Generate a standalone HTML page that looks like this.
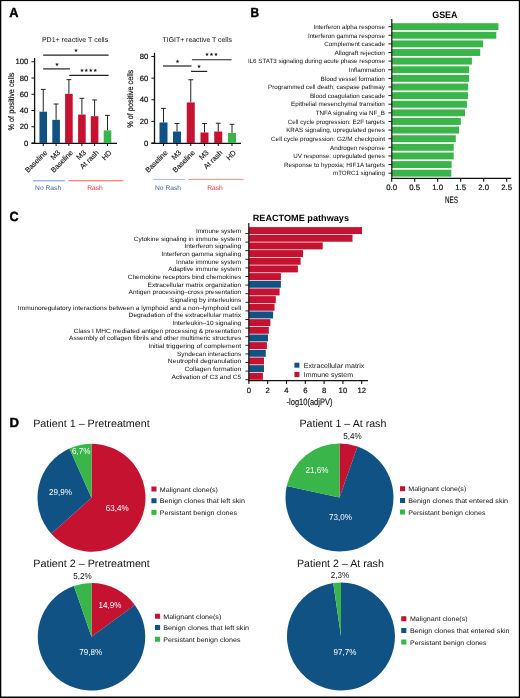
<!DOCTYPE html>
<html lang="en"><head><meta charset="utf-8"><title>Figure</title>
<style>
html,body{margin:0;padding:0;background:#fff;}
body{width:520px;height:698px;overflow:hidden;}
svg{display:block;}
svg text{font-family:"Liberation Sans",sans-serif;text-rendering:geometricPrecision;}
</style></head><body>
<svg width="520" height="698" viewBox="0 0 520 698">
<rect x="0" y="0" width="520" height="698" fill="#ffffff"/>
<text transform="translate(9.25,16.75) scale(0.97,1)" font-size="13.2" font-weight="bold" fill="#000" stroke="#000" stroke-width="0.4">A</text>
<text transform="translate(250.6,16.8) scale(0.9,1)" font-size="13.2" font-weight="bold" fill="#000" stroke="#000" stroke-width="0.4">B</text>
<text transform="translate(9.45,221.2) scale(0.96,1)" font-size="13.2" font-weight="bold" fill="#000" stroke="#000" stroke-width="0.4">C</text>
<text transform="translate(9.6,427.0) scale(1.0,1)" font-size="13.2" font-weight="bold" fill="#000" stroke="#000" stroke-width="0.4">D</text>
<line x1="34.60" y1="58.00" x2="34.60" y2="143.90" stroke="#111" stroke-width="1.3"/>
<line x1="31.50" y1="143.30" x2="117.00" y2="143.30" stroke="#111" stroke-width="1.3"/>
<line x1="31.40" y1="143.00" x2="34.60" y2="143.00" stroke="#111" stroke-width="1.0"/>
<text x="28.30" y="145.65" font-size="7.7" text-anchor="end" fill="#111" stroke="#111" stroke-width="0.2">0</text>
<line x1="31.40" y1="126.75" x2="34.60" y2="126.75" stroke="#111" stroke-width="1.0"/>
<text x="28.30" y="129.40" font-size="7.7" text-anchor="end" fill="#111" stroke="#111" stroke-width="0.2">20</text>
<line x1="31.40" y1="110.50" x2="34.60" y2="110.50" stroke="#111" stroke-width="1.0"/>
<text x="28.30" y="113.15" font-size="7.7" text-anchor="end" fill="#111" stroke="#111" stroke-width="0.2">40</text>
<line x1="31.40" y1="94.25" x2="34.60" y2="94.25" stroke="#111" stroke-width="1.0"/>
<text x="28.30" y="96.90" font-size="7.7" text-anchor="end" fill="#111" stroke="#111" stroke-width="0.2">60</text>
<line x1="31.40" y1="78.00" x2="34.60" y2="78.00" stroke="#111" stroke-width="1.0"/>
<text x="28.30" y="80.65" font-size="7.7" text-anchor="end" fill="#111" stroke="#111" stroke-width="0.2">80</text>
<line x1="31.40" y1="61.75" x2="34.60" y2="61.75" stroke="#111" stroke-width="1.0"/>
<text x="28.30" y="64.40" font-size="7.7" text-anchor="end" fill="#111" stroke="#111" stroke-width="0.2">100</text>
<line x1="43.25" y1="89.38" x2="43.25" y2="111.72" stroke="#222" stroke-width="1.0"/>
<line x1="40.85" y1="89.38" x2="45.65" y2="89.38" stroke="#222" stroke-width="1.0"/>
<rect x="39.45" y="111.72" width="7.60" height="31.28" fill="#115285"/>
<line x1="43.25" y1="143.00" x2="43.25" y2="146.00" stroke="#111" stroke-width="1.0"/>
<line x1="56.10" y1="104.00" x2="56.10" y2="119.84" stroke="#222" stroke-width="1.0"/>
<line x1="53.70" y1="104.00" x2="58.50" y2="104.00" stroke="#222" stroke-width="1.0"/>
<rect x="52.30" y="119.84" width="7.60" height="23.16" fill="#115285"/>
<line x1="56.10" y1="143.00" x2="56.10" y2="146.00" stroke="#111" stroke-width="1.0"/>
<line x1="68.90" y1="79.62" x2="68.90" y2="93.84" stroke="#222" stroke-width="1.0"/>
<line x1="66.50" y1="79.62" x2="71.30" y2="79.62" stroke="#222" stroke-width="1.0"/>
<rect x="65.10" y="93.84" width="7.60" height="49.16" fill="#c41230"/>
<line x1="68.90" y1="143.00" x2="68.90" y2="146.00" stroke="#111" stroke-width="1.0"/>
<line x1="81.90" y1="98.31" x2="81.90" y2="114.56" stroke="#222" stroke-width="1.0"/>
<line x1="79.50" y1="98.31" x2="84.30" y2="98.31" stroke="#222" stroke-width="1.0"/>
<rect x="78.10" y="114.56" width="7.60" height="28.44" fill="#c41230"/>
<line x1="81.90" y1="143.00" x2="81.90" y2="146.00" stroke="#111" stroke-width="1.0"/>
<line x1="94.60" y1="99.94" x2="94.60" y2="116.19" stroke="#222" stroke-width="1.0"/>
<line x1="92.20" y1="99.94" x2="97.00" y2="99.94" stroke="#222" stroke-width="1.0"/>
<rect x="90.80" y="116.19" width="7.60" height="26.81" fill="#c41230"/>
<line x1="94.60" y1="143.00" x2="94.60" y2="146.00" stroke="#111" stroke-width="1.0"/>
<line x1="107.50" y1="115.38" x2="107.50" y2="130.41" stroke="#222" stroke-width="1.0"/>
<line x1="105.10" y1="115.38" x2="109.90" y2="115.38" stroke="#222" stroke-width="1.0"/>
<rect x="103.70" y="130.41" width="7.60" height="12.59" fill="#39b54a"/>
<line x1="107.50" y1="143.00" x2="107.50" y2="146.00" stroke="#111" stroke-width="1.0"/>
<text transform="translate(47.85,153.20) rotate(-45)" font-size="7.3" text-anchor="end" fill="#111" stroke="#111" stroke-width="0.12">Baseline</text>
<text transform="translate(60.70,153.20) rotate(-45)" font-size="7.3" text-anchor="end" fill="#111" stroke="#111" stroke-width="0.12">M3</text>
<text transform="translate(73.50,153.20) rotate(-45)" font-size="7.3" text-anchor="end" fill="#111" stroke="#111" stroke-width="0.12">Baseline</text>
<text transform="translate(86.50,153.20) rotate(-45)" font-size="7.3" text-anchor="end" fill="#111" stroke="#111" stroke-width="0.12">M3</text>
<text transform="translate(99.20,153.20) rotate(-45)" font-size="7.3" text-anchor="end" fill="#111" stroke="#111" stroke-width="0.12">At rash</text>
<text transform="translate(112.10,153.20) rotate(-45)" font-size="7.3" text-anchor="end" fill="#111" stroke="#111" stroke-width="0.12">HD</text>
<text x="41.90" y="41.90" font-size="7.0" textLength="66.3" lengthAdjust="spacingAndGlyphs" fill="#111">PD1+ reactive T cells</text>
<text transform="translate(13.90,101.50) rotate(-90) scale(0.89,1)" font-size="8.2" text-anchor="middle" fill="#111" stroke="#111" stroke-width="0.18">% of positive cells</text>
<line x1="43.20" y1="55.20" x2="108.60" y2="55.20" stroke="#222" stroke-width="1.2"/>
<text x="75.90" y="51.90" font-size="5.0" text-anchor="middle" fill="#111" style="font-family:'DejaVu Sans',sans-serif">★</text>
<line x1="43.20" y1="68.90" x2="69.90" y2="68.90" stroke="#222" stroke-width="1.2"/>
<text x="56.90" y="65.60" font-size="5.0" text-anchor="middle" fill="#111" style="font-family:'DejaVu Sans',sans-serif">★</text>
<line x1="69.30" y1="75.40" x2="108.60" y2="75.40" stroke="#222" stroke-width="1.2"/>
<text x="88.60" y="72.10" font-size="5.0" text-anchor="middle" fill="#111" style="font-family:'DejaVu Sans',sans-serif">★★★★</text>
<line x1="33.10" y1="180.80" x2="64.80" y2="180.80" stroke="#7d9de0" stroke-width="1.1"/>
<text x="48.10" y="190.00" font-size="6.7" text-anchor="middle" fill="#3d5fa3">No Rash</text>
<line x1="68.30" y1="180.80" x2="123.30" y2="180.80" stroke="#ff5c5c" stroke-width="1.1"/>
<text x="95.00" y="190.00" font-size="6.7" text-anchor="middle" fill="#ee2e3e">Rash</text>
<line x1="154.50" y1="52.80" x2="154.50" y2="143.90" stroke="#111" stroke-width="1.3"/>
<line x1="151.30" y1="143.30" x2="241.00" y2="143.30" stroke="#111" stroke-width="1.3"/>
<line x1="151.30" y1="143.00" x2="154.50" y2="143.00" stroke="#111" stroke-width="1.0"/>
<text x="148.20" y="145.65" font-size="7.7" text-anchor="end" fill="#111" stroke="#111" stroke-width="0.2">0</text>
<line x1="151.30" y1="121.38" x2="154.50" y2="121.38" stroke="#111" stroke-width="1.0"/>
<text x="148.20" y="124.03" font-size="7.7" text-anchor="end" fill="#111" stroke="#111" stroke-width="0.2">20</text>
<line x1="151.30" y1="99.76" x2="154.50" y2="99.76" stroke="#111" stroke-width="1.0"/>
<text x="148.20" y="102.41" font-size="7.7" text-anchor="end" fill="#111" stroke="#111" stroke-width="0.2">40</text>
<line x1="151.30" y1="78.14" x2="154.50" y2="78.14" stroke="#111" stroke-width="1.0"/>
<text x="148.20" y="80.79" font-size="7.7" text-anchor="end" fill="#111" stroke="#111" stroke-width="0.2">60</text>
<line x1="151.30" y1="56.52" x2="154.50" y2="56.52" stroke="#111" stroke-width="1.0"/>
<text x="148.20" y="59.17" font-size="7.7" text-anchor="end" fill="#111" stroke="#111" stroke-width="0.2">80</text>
<line x1="163.50" y1="108.41" x2="163.50" y2="122.46" stroke="#222" stroke-width="1.0"/>
<line x1="161.10" y1="108.41" x2="165.90" y2="108.41" stroke="#222" stroke-width="1.0"/>
<rect x="159.50" y="122.46" width="8.00" height="20.54" fill="#115285"/>
<line x1="163.50" y1="143.00" x2="163.50" y2="146.00" stroke="#111" stroke-width="1.0"/>
<line x1="177.00" y1="123.54" x2="177.00" y2="131.54" stroke="#222" stroke-width="1.0"/>
<line x1="174.60" y1="123.54" x2="179.40" y2="123.54" stroke="#222" stroke-width="1.0"/>
<rect x="173.00" y="131.54" width="8.00" height="11.46" fill="#115285"/>
<line x1="177.00" y1="143.00" x2="177.00" y2="146.00" stroke="#111" stroke-width="1.0"/>
<line x1="190.75" y1="79.76" x2="190.75" y2="102.46" stroke="#222" stroke-width="1.0"/>
<line x1="188.35" y1="79.76" x2="193.15" y2="79.76" stroke="#222" stroke-width="1.0"/>
<rect x="186.75" y="102.46" width="8.00" height="40.54" fill="#c41230"/>
<line x1="190.75" y1="143.00" x2="190.75" y2="146.00" stroke="#111" stroke-width="1.0"/>
<line x1="204.50" y1="123.54" x2="204.50" y2="132.51" stroke="#222" stroke-width="1.0"/>
<line x1="202.10" y1="123.54" x2="206.90" y2="123.54" stroke="#222" stroke-width="1.0"/>
<rect x="200.50" y="132.51" width="8.00" height="10.49" fill="#c41230"/>
<line x1="204.50" y1="143.00" x2="204.50" y2="146.00" stroke="#111" stroke-width="1.0"/>
<line x1="218.25" y1="123.22" x2="218.25" y2="131.54" stroke="#222" stroke-width="1.0"/>
<line x1="215.85" y1="123.22" x2="220.65" y2="123.22" stroke="#222" stroke-width="1.0"/>
<rect x="214.25" y="131.54" width="8.00" height="11.46" fill="#c41230"/>
<line x1="218.25" y1="143.00" x2="218.25" y2="146.00" stroke="#111" stroke-width="1.0"/>
<line x1="232.00" y1="124.30" x2="232.00" y2="132.95" stroke="#222" stroke-width="1.0"/>
<line x1="229.60" y1="124.30" x2="234.40" y2="124.30" stroke="#222" stroke-width="1.0"/>
<rect x="228.00" y="132.95" width="8.00" height="10.05" fill="#39b54a"/>
<line x1="232.00" y1="143.00" x2="232.00" y2="146.00" stroke="#111" stroke-width="1.0"/>
<text transform="translate(168.10,153.20) rotate(-45)" font-size="7.3" text-anchor="end" fill="#111" stroke="#111" stroke-width="0.12">Baseline</text>
<text transform="translate(181.60,153.20) rotate(-45)" font-size="7.3" text-anchor="end" fill="#111" stroke="#111" stroke-width="0.12">M3</text>
<text transform="translate(195.35,153.20) rotate(-45)" font-size="7.3" text-anchor="end" fill="#111" stroke="#111" stroke-width="0.12">Baseline</text>
<text transform="translate(209.10,153.20) rotate(-45)" font-size="7.3" text-anchor="end" fill="#111" stroke="#111" stroke-width="0.12">M3</text>
<text transform="translate(222.85,153.20) rotate(-45)" font-size="7.3" text-anchor="end" fill="#111" stroke="#111" stroke-width="0.12">At rash</text>
<text transform="translate(236.60,153.20) rotate(-45)" font-size="7.3" text-anchor="end" fill="#111" stroke="#111" stroke-width="0.12">HD</text>
<text x="162.50" y="41.90" font-size="7.0" textLength="69.4" lengthAdjust="spacingAndGlyphs" fill="#111">TIGIT+ reactive T cells</text>
<text transform="translate(132.60,98.80) rotate(-90) scale(0.89,1)" font-size="8.2" text-anchor="middle" fill="#111" stroke="#111" stroke-width="0.18">% of positive cells</text>
<line x1="162.90" y1="66.00" x2="191.50" y2="66.00" stroke="#222" stroke-width="1.2"/>
<text x="177.50" y="62.70" font-size="5.0" text-anchor="middle" fill="#111" style="font-family:'DejaVu Sans',sans-serif">★</text>
<line x1="191.90" y1="59.75" x2="231.60" y2="59.75" stroke="#222" stroke-width="1.2"/>
<text x="211.50" y="56.45" font-size="5.0" text-anchor="middle" fill="#111" style="font-family:'DejaVu Sans',sans-serif">★★★</text>
<line x1="191.00" y1="71.40" x2="207.25" y2="71.40" stroke="#222" stroke-width="1.2"/>
<text x="199.00" y="68.10" font-size="5.0" text-anchor="middle" fill="#111" style="font-family:'DejaVu Sans',sans-serif">★</text>
<line x1="153.10" y1="179.40" x2="185.00" y2="179.40" stroke="#7d9de0" stroke-width="0.7"/>
<text x="168.00" y="190.00" font-size="6.7" text-anchor="middle" fill="#3d5fa3">No Rash</text>
<line x1="188.40" y1="179.40" x2="243.60" y2="179.40" stroke="#ff5c5c" stroke-width="0.7"/>
<text x="215.00" y="190.00" font-size="6.7" text-anchor="middle" fill="#ee2e3e">Rash</text>
<text x="432.20" y="17.70" font-size="9.4" font-weight="bold" textLength="25.3" lengthAdjust="spacingAndGlyphs" fill="#000">GSEA</text>
<rect x="391.80" y="23.20" width="106.60" height="6.90" fill="#39b54a"/>
<line x1="388.40" y1="26.65" x2="391.80" y2="26.65" stroke="#111" stroke-width="0.9"/>
<text x="313.40" y="28.90" font-size="6.2" textLength="71.5" lengthAdjust="spacingAndGlyphs" fill="#111">Interferon alpha response</text>
<rect x="391.80" y="31.82" width="104.50" height="6.90" fill="#39b54a"/>
<line x1="388.40" y1="35.27" x2="391.80" y2="35.27" stroke="#111" stroke-width="0.9"/>
<text x="307.90" y="37.52" font-size="6.2" textLength="77.0" lengthAdjust="spacingAndGlyphs" fill="#111">Interferon gamma response</text>
<rect x="391.80" y="40.44" width="91.20" height="6.90" fill="#39b54a"/>
<line x1="388.40" y1="43.89" x2="391.80" y2="43.89" stroke="#111" stroke-width="0.9"/>
<text x="324.30" y="46.14" font-size="6.2" textLength="60.6" lengthAdjust="spacingAndGlyphs" fill="#111">Complement cascade</text>
<rect x="391.80" y="49.06" width="88.40" height="6.90" fill="#39b54a"/>
<line x1="388.40" y1="52.51" x2="391.80" y2="52.51" stroke="#111" stroke-width="0.9"/>
<text x="334.40" y="54.76" font-size="6.2" textLength="50.5" lengthAdjust="spacingAndGlyphs" fill="#111">Allograft rejection</text>
<rect x="391.80" y="57.68" width="80.10" height="6.90" fill="#39b54a"/>
<line x1="388.40" y1="61.13" x2="391.80" y2="61.13" stroke="#111" stroke-width="0.9"/>
<text x="247.90" y="63.38" font-size="6.2" textLength="137.0" lengthAdjust="spacingAndGlyphs" fill="#111">IL6 STAT3 signaling during acute phase response</text>
<rect x="391.80" y="66.30" width="77.30" height="6.90" fill="#39b54a"/>
<line x1="388.40" y1="69.75" x2="391.80" y2="69.75" stroke="#111" stroke-width="0.9"/>
<text x="348.80" y="72.00" font-size="6.2" textLength="36.1" lengthAdjust="spacingAndGlyphs" fill="#111">Inflammation</text>
<rect x="391.80" y="74.92" width="77.30" height="6.90" fill="#39b54a"/>
<line x1="388.40" y1="78.37" x2="391.80" y2="78.37" stroke="#111" stroke-width="0.9"/>
<text x="320.60" y="80.62" font-size="6.2" textLength="64.3" lengthAdjust="spacingAndGlyphs" fill="#111">Blood vessel formation</text>
<rect x="391.80" y="83.54" width="76.40" height="6.90" fill="#39b54a"/>
<line x1="388.40" y1="86.99" x2="391.80" y2="86.99" stroke="#111" stroke-width="0.9"/>
<text x="268.10" y="89.24" font-size="6.2" textLength="116.8" lengthAdjust="spacingAndGlyphs" fill="#111">Programmed cell death; caspase pathway</text>
<rect x="391.80" y="92.16" width="76.10" height="6.90" fill="#39b54a"/>
<line x1="388.40" y1="95.61" x2="391.80" y2="95.61" stroke="#111" stroke-width="0.9"/>
<text x="309.90" y="97.86" font-size="6.2" textLength="75.0" lengthAdjust="spacingAndGlyphs" fill="#111">Blood coagulation cascade</text>
<rect x="391.80" y="100.78" width="75.10" height="6.90" fill="#39b54a"/>
<line x1="388.40" y1="104.23" x2="391.80" y2="104.23" stroke="#111" stroke-width="0.9"/>
<text x="291.10" y="106.48" font-size="6.2" textLength="93.8" lengthAdjust="spacingAndGlyphs" fill="#111">Epithelial mesenchymal transition</text>
<rect x="391.80" y="109.40" width="73.20" height="6.90" fill="#39b54a"/>
<line x1="388.40" y1="112.85" x2="391.80" y2="112.85" stroke="#111" stroke-width="0.9"/>
<text x="315.70" y="115.10" font-size="6.2" textLength="69.2" lengthAdjust="spacingAndGlyphs" fill="#111">TNFA signaling via NF_B</text>
<rect x="391.80" y="118.02" width="69.00" height="6.90" fill="#39b54a"/>
<line x1="388.40" y1="121.47" x2="391.80" y2="121.47" stroke="#111" stroke-width="0.9"/>
<text x="287.70" y="123.72" font-size="6.2" textLength="97.2" lengthAdjust="spacingAndGlyphs" fill="#111">Cell cycle progression: E2F targets</text>
<rect x="391.80" y="126.64" width="67.30" height="6.90" fill="#39b54a"/>
<line x1="388.40" y1="130.09" x2="391.80" y2="130.09" stroke="#111" stroke-width="0.9"/>
<text x="286.20" y="132.34" font-size="6.2" textLength="98.7" lengthAdjust="spacingAndGlyphs" fill="#111">KRAS signaling, upregulated genes</text>
<rect x="391.80" y="135.26" width="64.00" height="6.90" fill="#39b54a"/>
<line x1="388.40" y1="138.71" x2="391.80" y2="138.71" stroke="#111" stroke-width="0.9"/>
<text x="271.00" y="140.96" font-size="6.2" textLength="113.9" lengthAdjust="spacingAndGlyphs" fill="#111">Cell cycle progression: G2/M checkpoint</text>
<rect x="391.80" y="143.88" width="61.90" height="6.90" fill="#39b54a"/>
<line x1="388.40" y1="147.33" x2="391.80" y2="147.33" stroke="#111" stroke-width="0.9"/>
<text x="330.10" y="149.58" font-size="6.2" textLength="54.8" lengthAdjust="spacingAndGlyphs" fill="#111">Androgen response</text>
<rect x="391.80" y="152.50" width="61.90" height="6.90" fill="#39b54a"/>
<line x1="388.40" y1="155.95" x2="391.80" y2="155.95" stroke="#111" stroke-width="0.9"/>
<text x="293.20" y="158.20" font-size="6.2" textLength="91.7" lengthAdjust="spacingAndGlyphs" fill="#111">UV response: upregulated genes</text>
<rect x="391.80" y="161.12" width="59.80" height="6.90" fill="#39b54a"/>
<line x1="388.40" y1="164.57" x2="391.80" y2="164.57" stroke="#111" stroke-width="0.9"/>
<text x="283.90" y="166.82" font-size="6.2" textLength="101.0" lengthAdjust="spacingAndGlyphs" fill="#111">Response to hypoxia; HIF1A targets</text>
<rect x="391.80" y="169.74" width="59.50" height="6.90" fill="#39b54a"/>
<line x1="388.40" y1="173.19" x2="391.80" y2="173.19" stroke="#111" stroke-width="0.9"/>
<text x="333.00" y="175.44" font-size="6.2" textLength="51.9" lengthAdjust="spacingAndGlyphs" fill="#111">mTORC1 signaling</text>
<line x1="391.80" y1="19.00" x2="391.80" y2="179.00" stroke="#111" stroke-width="1.2"/>
<line x1="391.20" y1="178.40" x2="511.20" y2="178.40" stroke="#111" stroke-width="1.2"/>
<line x1="391.70" y1="178.40" x2="391.70" y2="181.80" stroke="#111" stroke-width="1.1"/>
<text x="391.70" y="190.40" font-size="7.8" text-anchor="middle" fill="#111" stroke="#111" stroke-width="0.2">0.0</text>
<line x1="414.70" y1="178.40" x2="414.70" y2="181.80" stroke="#111" stroke-width="1.1"/>
<text x="414.70" y="190.40" font-size="7.8" text-anchor="middle" fill="#111" stroke="#111" stroke-width="0.2">0.5</text>
<line x1="437.70" y1="178.40" x2="437.70" y2="181.80" stroke="#111" stroke-width="1.1"/>
<text x="437.70" y="190.40" font-size="7.8" text-anchor="middle" fill="#111" stroke="#111" stroke-width="0.2">1.0</text>
<line x1="460.70" y1="178.40" x2="460.70" y2="181.80" stroke="#111" stroke-width="1.1"/>
<text x="460.70" y="190.40" font-size="7.8" text-anchor="middle" fill="#111" stroke="#111" stroke-width="0.2">1.5</text>
<line x1="483.70" y1="178.40" x2="483.70" y2="181.80" stroke="#111" stroke-width="1.1"/>
<text x="483.70" y="190.40" font-size="7.8" text-anchor="middle" fill="#111" stroke="#111" stroke-width="0.2">2.0</text>
<line x1="506.70" y1="178.40" x2="506.70" y2="181.80" stroke="#111" stroke-width="1.1"/>
<text x="506.70" y="190.40" font-size="7.8" text-anchor="middle" fill="#111" stroke="#111" stroke-width="0.2">2.5</text>
<text transform="translate(451.5,203.0) scale(0.68,1)" font-size="9.3" text-anchor="middle" fill="#111" stroke="#111" stroke-width="0.18">NES</text>
<text x="252.70" y="221.00" font-size="9.0" font-weight="bold" textLength="96.3" lengthAdjust="spacingAndGlyphs" fill="#000">REACTOME pathways</text>
<rect x="248.80" y="227.10" width="113.20" height="6.95" fill="#c41230"/>
<text x="196.00" y="232.85" font-size="6.2" textLength="45.2" lengthAdjust="spacingAndGlyphs" fill="#111">Immune system</text>
<rect x="248.80" y="234.77" width="103.70" height="6.95" fill="#c41230"/>
<text x="133.70" y="240.52" font-size="6.2" textLength="107.5" lengthAdjust="spacingAndGlyphs" fill="#111">Cytokine signaling in immune system</text>
<rect x="248.80" y="242.44" width="73.90" height="6.95" fill="#c41230"/>
<text x="184.40" y="248.19" font-size="6.2" textLength="56.8" lengthAdjust="spacingAndGlyphs" fill="#111">Interferon signaling</text>
<rect x="248.80" y="250.11" width="54.20" height="6.95" fill="#c41230"/>
<text x="161.40" y="255.86" font-size="6.2" textLength="79.8" lengthAdjust="spacingAndGlyphs" fill="#111">Interferon gamma signaling</text>
<rect x="248.80" y="257.78" width="51.80" height="6.95" fill="#c41230"/>
<text x="176.10" y="263.53" font-size="6.2" textLength="65.1" lengthAdjust="spacingAndGlyphs" fill="#111">Innate immune system</text>
<rect x="248.80" y="265.45" width="49.10" height="6.95" fill="#c41230"/>
<text x="168.30" y="271.20" font-size="6.2" textLength="72.9" lengthAdjust="spacingAndGlyphs" fill="#111">Adaptive immune system</text>
<rect x="248.80" y="273.12" width="32.10" height="6.95" fill="#c41230"/>
<text x="127.70" y="278.87" font-size="6.2" textLength="113.5" lengthAdjust="spacingAndGlyphs" fill="#111">Chemokine receptors bind chemokines</text>
<rect x="248.80" y="280.79" width="32.10" height="6.95" fill="#115285"/>
<text x="147.50" y="286.54" font-size="6.2" textLength="93.7" lengthAdjust="spacingAndGlyphs" fill="#111">Extracellular matrix organization</text>
<rect x="248.80" y="288.46" width="30.80" height="6.95" fill="#c41230"/>
<text x="128.60" y="294.21" font-size="6.2" textLength="112.6" lengthAdjust="spacingAndGlyphs" fill="#111">Antigen processing–cross presentation</text>
<rect x="248.80" y="296.13" width="27.00" height="6.95" fill="#c41230"/>
<text x="170.10" y="301.88" font-size="6.2" textLength="71.1" lengthAdjust="spacingAndGlyphs" fill="#111">Signaling by interleukins</text>
<rect x="248.80" y="303.80" width="25.70" height="6.95" fill="#c41230"/>
<text x="17.80" y="309.55" font-size="6.2" textLength="223.4" lengthAdjust="spacingAndGlyphs" fill="#111">Immunoregulatory interactions between a lymphoid and a non–lymphoid cell</text>
<rect x="248.80" y="311.47" width="24.30" height="6.95" fill="#115285"/>
<text x="128.60" y="317.22" font-size="6.2" textLength="112.6" lengthAdjust="spacingAndGlyphs" fill="#111">Degradation of the extracellular matrix</text>
<rect x="248.80" y="319.14" width="21.60" height="6.95" fill="#c41230"/>
<text x="172.40" y="324.89" font-size="6.2" textLength="68.8" lengthAdjust="spacingAndGlyphs" fill="#111">Interleukin–10 signaling</text>
<rect x="248.80" y="326.81" width="20.00" height="6.95" fill="#c41230"/>
<text x="73.70" y="332.56" font-size="6.2" textLength="167.5" lengthAdjust="spacingAndGlyphs" fill="#111">Class I MHC mediated antigen processing &amp; presentation</text>
<rect x="248.80" y="334.48" width="19.20" height="6.95" fill="#115285"/>
<text x="69.10" y="340.23" font-size="6.2" textLength="172.1" lengthAdjust="spacingAndGlyphs" fill="#111">Assembly of collagen fibrils and other multimeric structures</text>
<rect x="248.80" y="342.15" width="18.10" height="6.95" fill="#c41230"/>
<text x="148.40" y="347.90" font-size="6.2" textLength="92.8" lengthAdjust="spacingAndGlyphs" fill="#111">Initial triggering of complement</text>
<rect x="248.80" y="349.82" width="17.00" height="6.95" fill="#115285"/>
<text x="177.00" y="355.57" font-size="6.2" textLength="64.2" lengthAdjust="spacingAndGlyphs" fill="#111">Syndecan interactions</text>
<rect x="248.80" y="357.49" width="15.20" height="6.95" fill="#c41230"/>
<text x="167.80" y="363.24" font-size="6.2" textLength="73.4" lengthAdjust="spacingAndGlyphs" fill="#111">Neutrophil degranulation</text>
<rect x="248.80" y="365.16" width="15.20" height="6.95" fill="#115285"/>
<text x="184.40" y="370.91" font-size="6.2" textLength="56.8" lengthAdjust="spacingAndGlyphs" fill="#111">Collagen formation</text>
<rect x="248.80" y="372.83" width="14.10" height="6.95" fill="#c41230"/>
<text x="171.50" y="378.58" font-size="6.2" textLength="69.7" lengthAdjust="spacingAndGlyphs" fill="#111">Activation of C3 and C5</text>
<line x1="245.40" y1="233.50" x2="248.80" y2="233.50" stroke="#111" stroke-width="0.9"/>
<line x1="245.40" y1="242.10" x2="248.80" y2="242.10" stroke="#111" stroke-width="0.9"/>
<line x1="245.40" y1="250.70" x2="248.80" y2="250.70" stroke="#111" stroke-width="0.9"/>
<line x1="245.40" y1="259.30" x2="248.80" y2="259.30" stroke="#111" stroke-width="0.9"/>
<line x1="245.40" y1="267.90" x2="248.80" y2="267.90" stroke="#111" stroke-width="0.9"/>
<line x1="245.40" y1="276.50" x2="248.80" y2="276.50" stroke="#111" stroke-width="0.9"/>
<line x1="245.40" y1="285.10" x2="248.80" y2="285.10" stroke="#111" stroke-width="0.9"/>
<line x1="245.40" y1="293.70" x2="248.80" y2="293.70" stroke="#111" stroke-width="0.9"/>
<line x1="245.40" y1="302.30" x2="248.80" y2="302.30" stroke="#111" stroke-width="0.9"/>
<line x1="245.40" y1="310.90" x2="248.80" y2="310.90" stroke="#111" stroke-width="0.9"/>
<line x1="245.40" y1="319.50" x2="248.80" y2="319.50" stroke="#111" stroke-width="0.9"/>
<line x1="245.40" y1="328.10" x2="248.80" y2="328.10" stroke="#111" stroke-width="0.9"/>
<line x1="245.40" y1="336.70" x2="248.80" y2="336.70" stroke="#111" stroke-width="0.9"/>
<line x1="245.40" y1="345.30" x2="248.80" y2="345.30" stroke="#111" stroke-width="0.9"/>
<line x1="245.40" y1="353.90" x2="248.80" y2="353.90" stroke="#111" stroke-width="0.9"/>
<line x1="245.40" y1="362.50" x2="248.80" y2="362.50" stroke="#111" stroke-width="0.9"/>
<line x1="245.40" y1="371.10" x2="248.80" y2="371.10" stroke="#111" stroke-width="0.9"/>
<line x1="245.40" y1="379.70" x2="248.80" y2="379.70" stroke="#111" stroke-width="0.9"/>
<line x1="248.80" y1="223.10" x2="248.80" y2="381.30" stroke="#111" stroke-width="1.2"/>
<line x1="248.20" y1="380.70" x2="368.00" y2="380.70" stroke="#111" stroke-width="1.2"/>
<line x1="248.90" y1="380.70" x2="248.90" y2="384.00" stroke="#111" stroke-width="1.1"/>
<text x="248.90" y="392.70" font-size="7.7" text-anchor="middle" fill="#111" stroke="#111" stroke-width="0.2">0</text>
<line x1="267.70" y1="380.70" x2="267.70" y2="384.00" stroke="#111" stroke-width="1.1"/>
<text x="267.70" y="392.70" font-size="7.7" text-anchor="middle" fill="#111" stroke="#111" stroke-width="0.2">2</text>
<line x1="286.50" y1="380.70" x2="286.50" y2="384.00" stroke="#111" stroke-width="1.1"/>
<text x="286.50" y="392.70" font-size="7.7" text-anchor="middle" fill="#111" stroke="#111" stroke-width="0.2">4</text>
<line x1="305.30" y1="380.70" x2="305.30" y2="384.00" stroke="#111" stroke-width="1.1"/>
<text x="305.30" y="392.70" font-size="7.7" text-anchor="middle" fill="#111" stroke="#111" stroke-width="0.2">6</text>
<line x1="324.10" y1="380.70" x2="324.10" y2="384.00" stroke="#111" stroke-width="1.1"/>
<text x="324.10" y="392.70" font-size="7.7" text-anchor="middle" fill="#111" stroke="#111" stroke-width="0.2">8</text>
<line x1="342.90" y1="380.70" x2="342.90" y2="384.00" stroke="#111" stroke-width="1.1"/>
<text x="342.90" y="392.70" font-size="7.7" text-anchor="middle" fill="#111" stroke="#111" stroke-width="0.2">10</text>
<line x1="361.70" y1="380.70" x2="361.70" y2="384.00" stroke="#111" stroke-width="1.1"/>
<text x="361.70" y="392.70" font-size="7.7" text-anchor="middle" fill="#111" stroke="#111" stroke-width="0.2">12</text>
<text transform="translate(309.5,404.8) scale(0.816,1)" font-size="9.2" text-anchor="middle" fill="#111" stroke="#111" stroke-width="0.15">-log10(adjPV)</text>
<rect x="294.40" y="362.70" width="5.00" height="5.00" fill="#115285"/>
<rect x="294.40" y="371.90" width="5.00" height="5.20" fill="#c41230"/>
<text x="303.80" y="367.80" font-size="6.8" textLength="60.6" lengthAdjust="spacingAndGlyphs" fill="#111">Extracellular matrix</text>
<text x="303.80" y="376.80" font-size="6.8" textLength="49.2" lengthAdjust="spacingAndGlyphs" fill="#111">Immune system</text>
<text x="33.20" y="427.10" font-size="10.6" textLength="116.6" lengthAdjust="spacingAndGlyphs" fill="#111">Patient 1 – Pretreatment</text>
<path d="M91.50,497.75 L91.50,443.75 A54,54 0 1 1 51.22,533.71 Z" fill="#c41230"/>
<path d="M91.50,497.75 L51.22,533.71 A54,54 0 0 1 69.43,448.46 Z" fill="#115285"/>
<path d="M91.50,497.75 L69.43,448.46 A54,54 0 0 1 91.50,443.75 Z" fill="#39b54a"/>
<text x="117.25" y="510.50" font-size="8.6" text-anchor="middle" textLength="22.9" lengthAdjust="spacingAndGlyphs" fill="#fff">63,4%</text>
<text x="60.50" y="494.50" font-size="8.6" text-anchor="middle" textLength="22.9" lengthAdjust="spacingAndGlyphs" fill="#fff">29,9%</text>
<text x="81.25" y="454.30" font-size="8.6" text-anchor="middle" textLength="18.4" lengthAdjust="spacingAndGlyphs" fill="#fff">6,7%</text>
<rect x="151.40" y="486.50" width="5.10" height="5.00" fill="#c41230"/>
<rect x="151.40" y="498.20" width="5.10" height="5.00" fill="#115285"/>
<rect x="151.40" y="509.90" width="5.10" height="5.00" fill="#39b54a"/>
<text x="159.80" y="491.50" font-size="6.6" textLength="58.2" lengthAdjust="spacingAndGlyphs" fill="#111">Malignant clone(s)</text>
<text x="159.80" y="503.10" font-size="6.6" textLength="85.1" lengthAdjust="spacingAndGlyphs" fill="#111">Benign clones that left skin</text>
<text x="159.80" y="514.60" font-size="6.6" textLength="77.2" lengthAdjust="spacingAndGlyphs" fill="#111">Persistant benign clones</text>
<text x="299.50" y="426.70" font-size="10.6" textLength="86.8" lengthAdjust="spacingAndGlyphs" fill="#111">Patient 1 – At rash</text>
<path d="M339.50,497.50 L339.50,443.50 A54,54 0 0 1 357.47,446.58 Z" fill="#c41230"/>
<path d="M339.50,497.50 L357.47,446.58 A54,54 0 1 1 286.73,486.05 Z" fill="#115285"/>
<path d="M339.50,497.50 L286.73,486.05 A54,54 0 0 1 339.50,443.50 Z" fill="#39b54a"/>
<text x="352.50" y="438.80" font-size="8.6" text-anchor="middle" textLength="18.4" lengthAdjust="spacingAndGlyphs" fill="#111">5,4%</text>
<text x="317.00" y="473.30" font-size="8.6" text-anchor="middle" textLength="22.9" lengthAdjust="spacingAndGlyphs" fill="#fff">21,6%</text>
<text x="340.50" y="519.50" font-size="8.6" text-anchor="middle" textLength="22.9" lengthAdjust="spacingAndGlyphs" fill="#fff">73,0%</text>
<rect x="400.00" y="486.25" width="5.10" height="5.00" fill="#c41230"/>
<rect x="400.00" y="498.00" width="5.10" height="5.00" fill="#115285"/>
<rect x="400.00" y="509.50" width="5.10" height="5.00" fill="#39b54a"/>
<text x="408.25" y="491.30" font-size="6.6" textLength="58.0" lengthAdjust="spacingAndGlyphs" fill="#111">Malignant clone(s)</text>
<text x="408.25" y="503.00" font-size="6.6" textLength="99.8" lengthAdjust="spacingAndGlyphs" fill="#111">Benign clones that entered skin</text>
<text x="408.25" y="514.50" font-size="6.6" textLength="77.2" lengthAdjust="spacingAndGlyphs" fill="#111">Persistant benign clones</text>
<text x="33.25" y="567.40" font-size="10.6" textLength="116.6" lengthAdjust="spacingAndGlyphs" fill="#111">Patient 2 – Pretreatment</text>
<path d="M91.50,636.75 L91.50,583.00 A53.75,53.75 0 0 1 134.79,604.88 Z" fill="#c41230"/>
<path d="M91.50,636.75 L134.79,604.88 A53.75,53.75 0 1 1 73.93,585.95 Z" fill="#115285"/>
<path d="M91.50,636.75 L73.93,585.95 A53.75,53.75 0 0 1 91.50,583.00 Z" fill="#39b54a"/>
<text x="82.50" y="578.80" font-size="8.6" text-anchor="middle" textLength="18.4" lengthAdjust="spacingAndGlyphs" fill="#111">5,2%</text>
<text x="110.00" y="607.60" font-size="8.6" text-anchor="middle" textLength="22.9" lengthAdjust="spacingAndGlyphs" fill="#fff">14,9%</text>
<text x="90.75" y="655.10" font-size="8.6" text-anchor="middle" textLength="22.9" lengthAdjust="spacingAndGlyphs" fill="#fff">79,8%</text>
<rect x="155.00" y="613.75" width="5.10" height="5.00" fill="#c41230"/>
<rect x="155.00" y="625.00" width="5.10" height="5.00" fill="#115285"/>
<rect x="155.00" y="636.75" width="5.10" height="5.00" fill="#39b54a"/>
<text x="163.25" y="618.75" font-size="6.6" textLength="58.0" lengthAdjust="spacingAndGlyphs" fill="#111">Malignant clone(s)</text>
<text x="163.25" y="630.20" font-size="6.6" textLength="85.8" lengthAdjust="spacingAndGlyphs" fill="#111">Benign clones that left skin</text>
<text x="163.25" y="641.70" font-size="6.6" textLength="77.2" lengthAdjust="spacingAndGlyphs" fill="#111">Persistant benign clones</text>
<text x="297.00" y="567.40" font-size="10.6" textLength="86.8" lengthAdjust="spacingAndGlyphs" fill="#111">Patient 2 – At rash</text>
<path d="M341.00,636.50 L341.00,582.50 A54,54 0 1 1 333.22,583.06 Z" fill="#115285"/>
<path d="M341.00,636.50 L333.22,583.06 A54,54 0 0 1 341.00,582.50 Z" fill="#39b54a"/>
<text x="340.00" y="577.60" font-size="8.6" text-anchor="middle" textLength="18.4" lengthAdjust="spacingAndGlyphs" fill="#111">2,3%</text>
<text x="345.00" y="655.10" font-size="8.6" text-anchor="middle" textLength="22.9" lengthAdjust="spacingAndGlyphs" fill="#fff">97,7%</text>
<rect x="401.25" y="616.25" width="5.10" height="5.00" fill="#c41230"/>
<rect x="401.25" y="628.00" width="5.10" height="5.00" fill="#115285"/>
<rect x="401.25" y="639.50" width="5.10" height="5.00" fill="#39b54a"/>
<text x="410.00" y="621.30" font-size="6.6" textLength="57.5" lengthAdjust="spacingAndGlyphs" fill="#111">Malignant clone(s)</text>
<text x="410.00" y="633.00" font-size="6.6" textLength="99.5" lengthAdjust="spacingAndGlyphs" fill="#111">Benign clones that entered skin</text>
<text x="410.00" y="644.50" font-size="6.6" textLength="76.5" lengthAdjust="spacingAndGlyphs" fill="#111">Persistant benign clones</text>
<rect x="0" y="0" width="520" height="1.1" fill="#000"/>
<rect x="0" y="0" width="1.3" height="698" fill="#000"/>
<rect x="518.8" y="0" width="1.2" height="698" fill="#000"/>
<rect x="0" y="696.5" width="520" height="1.5" fill="#000"/>
</svg>
</body></html>
